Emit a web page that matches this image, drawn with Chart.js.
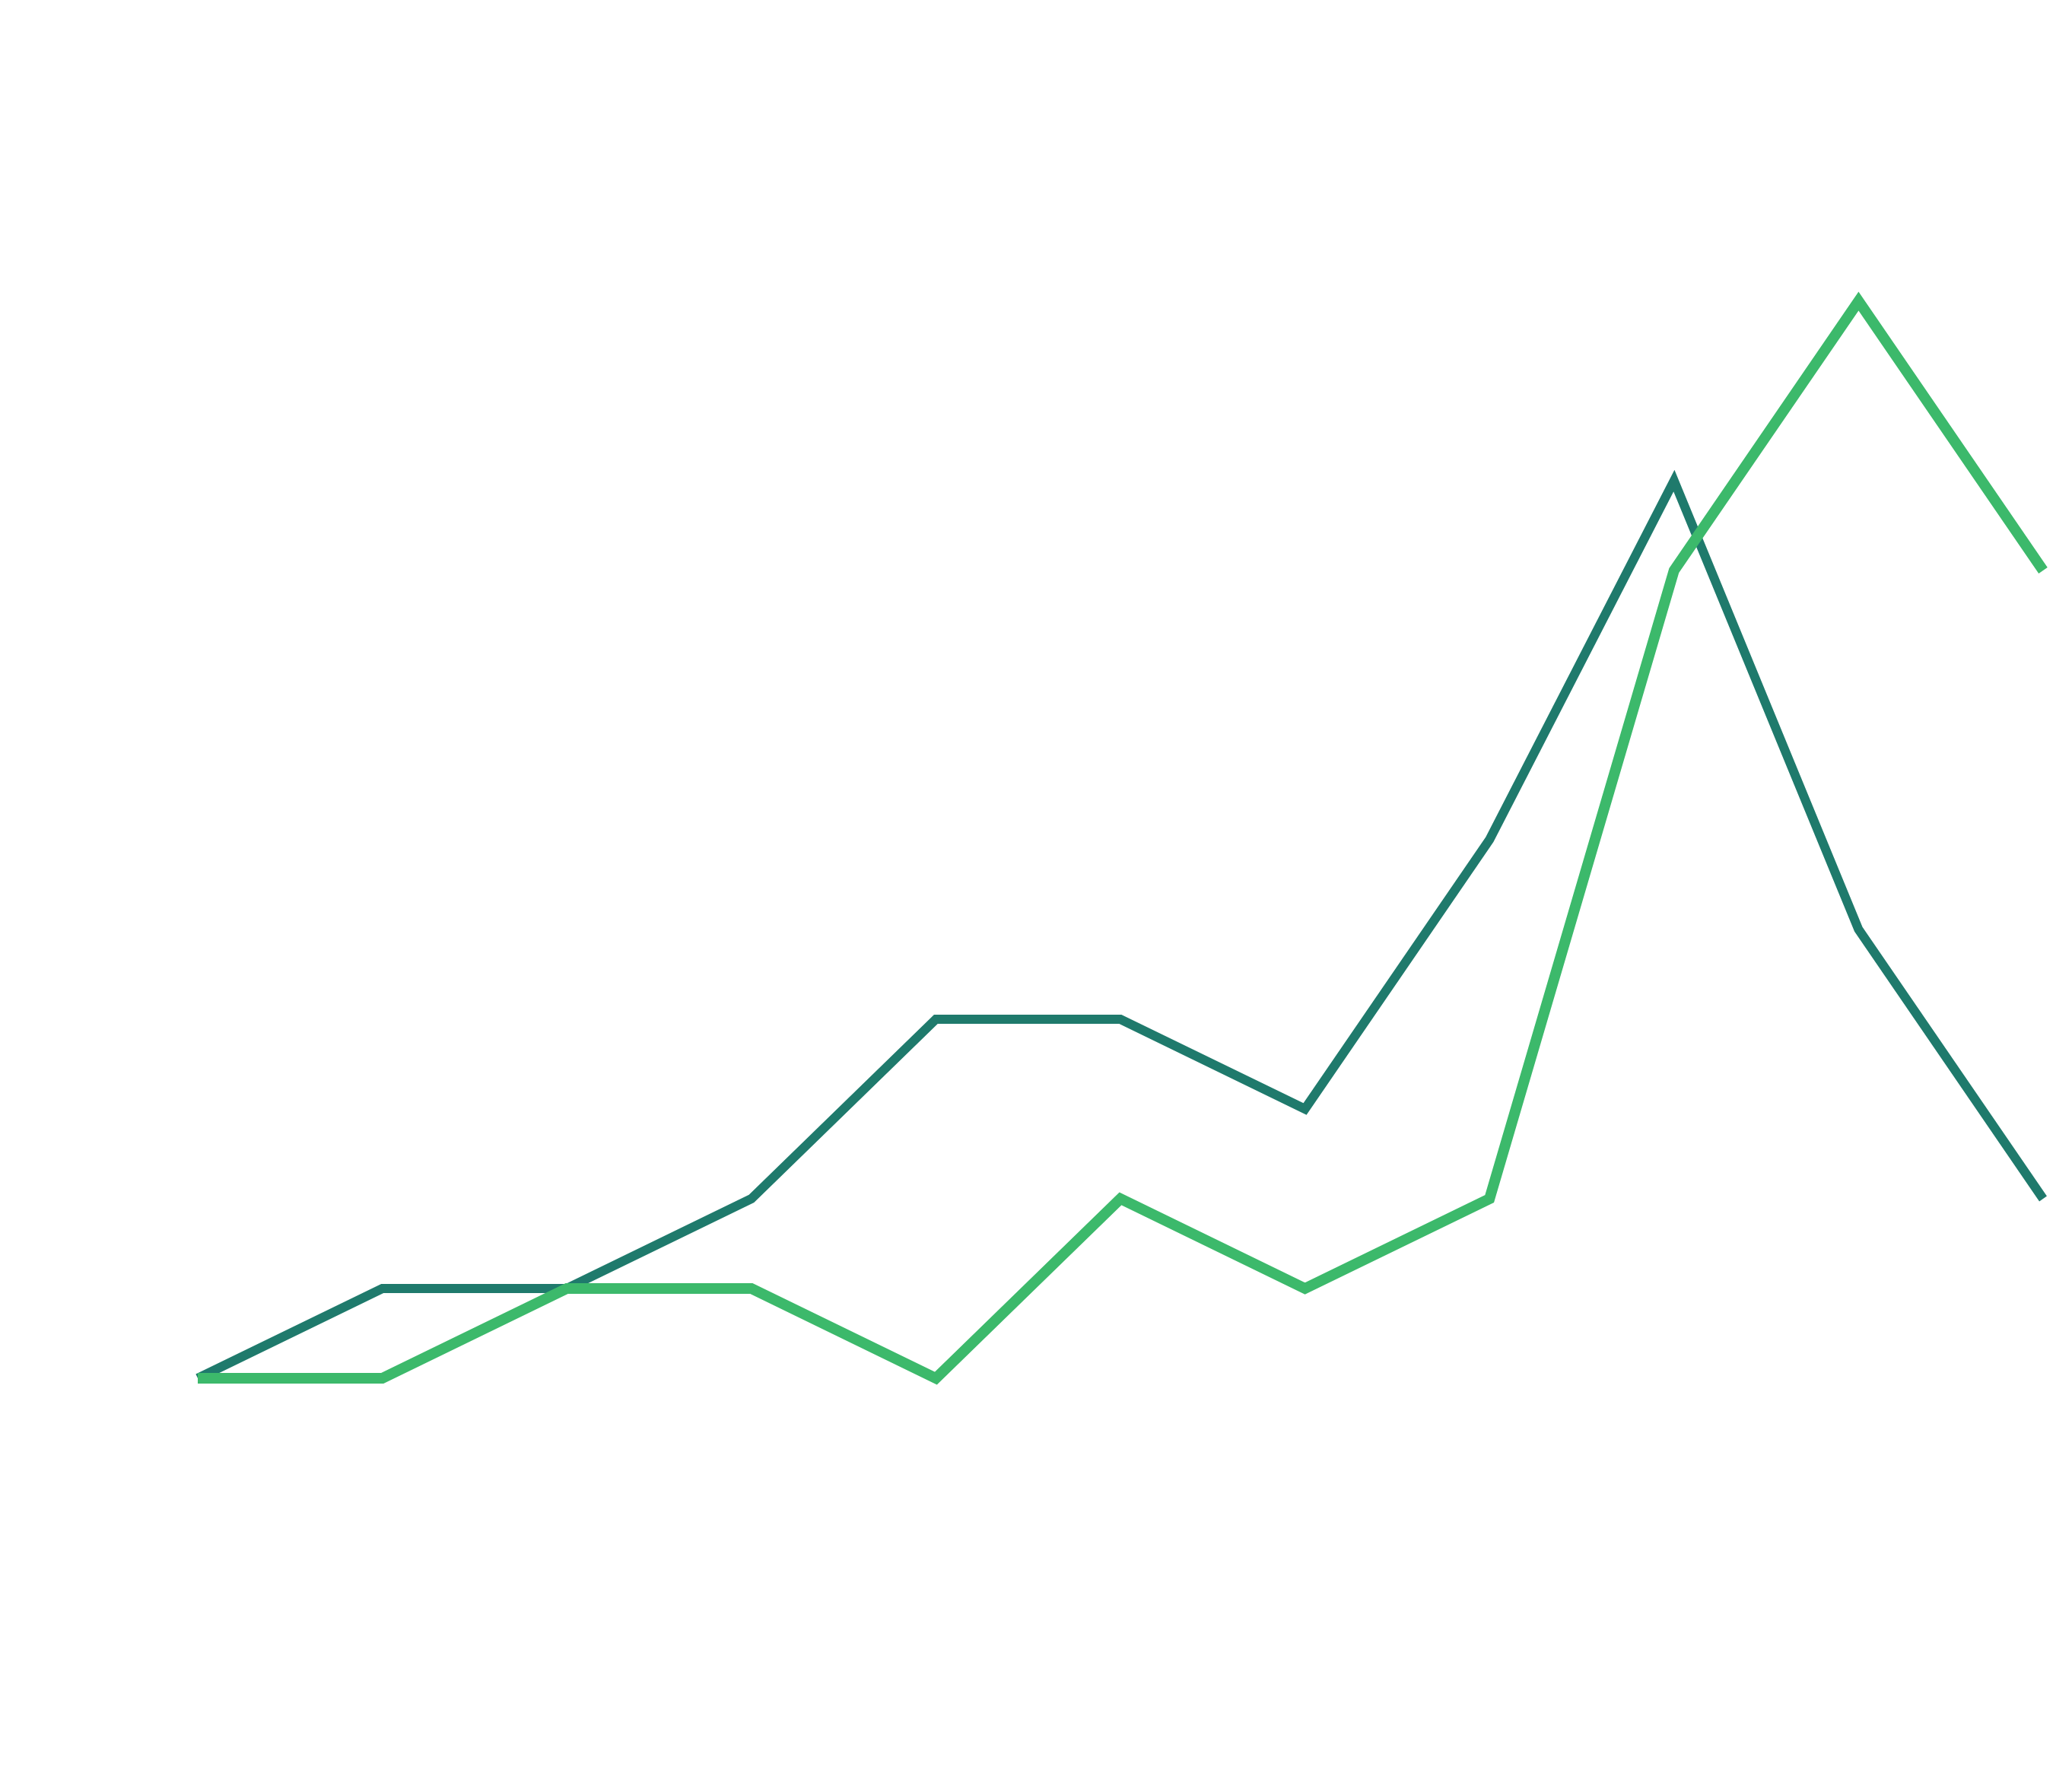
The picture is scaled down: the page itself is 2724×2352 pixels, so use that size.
<!DOCTYPE html>
<html>
<head>
<meta charset="utf-8">
<script src="https://cdn.jsdelivr.net/npm/chart.js@4/dist/chart.umd.min.js"></script>
<style>
    html, body { margin: 0; padding: 0; background: #ffffff; }
    #wrap { width: 2724px; height: 2352px; }
</style>
</head>
<body>
<div id="wrap"><canvas id="chart" width="2724" height="2352"></canvas></div>
<script>
// Data
const labels = ['1', '2', '3', '4', '5', '6', '7', '8', '9', '10', '11'];
const darkSeries = [0, 1, 1, 2, 4, 4, 3, 6, 10, 5, 2];
const greenSeries = [0, 0, 1, 1, 0, 2, 1, 2, 9, 12, 9];

const ctx = document.getElementById('chart').getContext('2d');
new Chart(ctx, {
    type: 'line',
    data: {
        labels: labels,
        datasets: [
            {
                label: 'Green',
                data: greenSeries,
                borderColor: '#3cb96b',
                borderWidth: 14,
                pointRadius: 0,
                tension: 0,
                fill: false,
                clip: false,
                order: 0
            },
            {
                label: 'Teal',
                data: darkSeries,
                borderColor: '#1f7a6c',
                borderWidth: 12,
                pointRadius: 0,
                tension: 0,
                fill: false,
                clip: false,
                order: 1
            }
        ]
    },
    options: {
        responsive: false,
        animation: false,
        layout: {
            padding: { left: 260, right: 38, top: 396, bottom: 540 }
        },
        plugins: {
            legend: { display: false },
            tooltip: { enabled: false }
        },
        scales: {
            x: { display: false, offset: false },
            y: { display: false, min: 0, max: 12 }
        }
    }
});
</script>
</body>
</html>
